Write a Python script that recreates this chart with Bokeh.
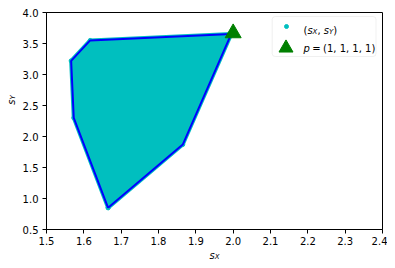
import math
from bokeh.plotting import figure
from bokeh.layouts import row, column
from bokeh.models import (Range1d, FixedTicker, PrintfTickFormatter, Label, Legend, LegendItem,
                          BoxAnnotation)
from bokeh.core.properties import value
from bokeh.embed import file_html
from bokeh.resources import INLINE

# ---- data ----
hull_x = [1.665, 1.865, 1.995, 1.617, 1.566, 1.573, 1.665]
hull_y = [0.850, 1.870, 3.655, 3.550, 3.220, 2.300, 0.850]
p_x = [2.0]
p_y = [3.667]
x_ticks = [1.5, 1.6, 1.7, 1.8, 1.9, 2.0, 2.1, 2.2, 2.3, 2.4]
y_ticks = [0.5, 1.0, 1.5, 2.0, 2.5, 3.0, 3.5, 4.0]

CYAN = "#00BFBF"
BLUE = "#0000FF"
GREEN = "#008000"
FONT = "DejaVu Sans"

p = figure(width=371, height=249, x_range=Range1d(1.5, 2.4), y_range=Range1d(0.5, 4.0),
           output_backend="svg", toolbar_location=None, align="start",
           min_border_left=30, min_border_right=5, min_border_top=12, min_border_bottom=20)
p.xgrid.visible = False
p.ygrid.visible = False
p.outline_line_color = "black"
p.outline_line_width = 1
p.background_fill_color = "white"
p.border_fill_color = "white"

for ax, ticks in ((p.xaxis[0], x_ticks), (p.yaxis[0], y_ticks)):
    ax.ticker = FixedTicker(ticks=ticks)
    ax.formatter = PrintfTickFormatter(format="%.1f")
    ax.axis_line_color = "black"
    ax.axis_line_width = 1
    ax.major_tick_line_color = "black"
    ax.major_tick_out = 4
    ax.major_tick_in = 0
    ax.minor_tick_out = 0
    ax.minor_tick_in = 0
    ax.major_label_text_font = FONT
    ax.major_label_text_font_size = "10px"
    ax.major_label_text_color = "black"
p.xaxis[0].major_label_standoff = 3
p.yaxis[0].major_label_standoff = 4

# filled region of the (s_X, s_Y) cloud, its points, and its hull outline
p.patch(hull_x, hull_y, fill_color=CYAN, line_color=CYAN, line_width=4)
r_pts = p.scatter(hull_x, hull_y, marker="circle", size=4, color=CYAN)
p.line(hull_x, hull_y, line_color=BLUE, line_width=2)
r_tri = p.scatter(p_x, p_y, marker="triangle", size=16, color=GREEN)

# legend frame (frame-relative screen units, y measured up from the frame bottom)
p.add_layout(BoxAnnotation(left=225.7, right=329.5, top=213, bottom=173,
                           left_units="screen", right_units="screen",
                           top_units="screen", bottom_units="screen",
                           fill_color="white", fill_alpha=0.8,
                           line_color="#cccccc", line_width=1, border_radius=3))


def glyph_legend(renderer, box, loc):
    return Legend(items=[LegendItem(label=value(" "), renderers=[renderer])],
                  location=loc, margin=0, padding=0, spacing=0,
                  glyph_width=box, glyph_height=box, label_height=box, label_width=1,
                  label_standoff=0, label_text_font_size="4px",
                  border_line_color=None, background_fill_alpha=0)


p.add_layout(glyph_legend(r_pts, 10, (234.7, 197.7)))
p.add_layout(glyph_legend(r_tri, 35, (221.5, 164)))


def label_fig(w, h):
    f = figure(width=w, height=h, x_range=Range1d(0, 1), y_range=Range1d(0, 1),
               output_backend="svg", toolbar_location=None, min_border=0, align="start",
               x_axis_location=None, y_axis_location=None)
    f.grid.visible = False
    f.outline_line_color = None
    f.background_fill_color = "white"
    f.border_fill_color = "white"
    return f


ylab = label_fig(16, 249)
xlab = label_fig(387, 11)

# ---- math-like text pieces ----
UP = {"(": 0.390, ")": 0.390, ",": 0.318, " ": 0.318, "=": 0.838, "1": 0.636}
IT = {"s": 0.521, "X": 0.684, "Y": 0.611, "p": 0.635}


def width(text, size, italic):
    table = IT if italic else UP
    return sum(table.get(ch, 0.6) for ch in text) * size


def place(fig, pieces, fx, fy, angle=0.0):
    for text, size, italic, drop, gap in pieces:
        if text:
            kw = dict(text=text, x_units="screen", y_units="screen", level="overlay",
                      text_font=FONT, text_font_size=f"{size}px",
                      text_font_style="italic" if italic else "normal",
                      text_color="black", text_align="left", text_baseline="alphabetic")
            if angle == 0.0:
                fig.add_layout(Label(x=fx, y=fy - drop, **kw))
            else:
                fig.add_layout(Label(x=fx + drop, y=fy, angle=angle, **kw))
            w = width(text, size, italic)
        else:
            w = gap
        if angle == 0.0:
            fx += w
        else:
            fy += w


sub = 7
place(p, [("(", 10, False, 0, 0), ("s", 10, True, 0, 0), ("X", sub, True, 2, 0), (",", 10, False, 0, 0),
          (None, 0, False, 0, 3.2), ("s", 10, True, 0, 0), ("Y", sub, True, 2, 0), (")", 10, False, 0, 0)],
      257, 199.5)
place(p, [("p", 10, True, 0, 0), (None, 0, False, 0, 2.4), ("=", 10, False, 0, 0), (None, 0, False, 0, 2.4),
          ("(1, 1, 1, 1)", 10, False, 0, 0)], 257, 181)
place(xlab, [("s", 10, True, 0, 0), ("X", sub, True, 1.6, 0)], 209, 6.2)
place(ylab, [("s", 10, True, 0, 0), ("Y", sub, True, 2, 0)], 10.5, 124.7, angle=math.pi / 2)

layout = column(row(ylab, p, spacing=0, align="start"), xlab, spacing=0, align="start")
open("out.html", "w").write(file_html(layout, INLINE))
